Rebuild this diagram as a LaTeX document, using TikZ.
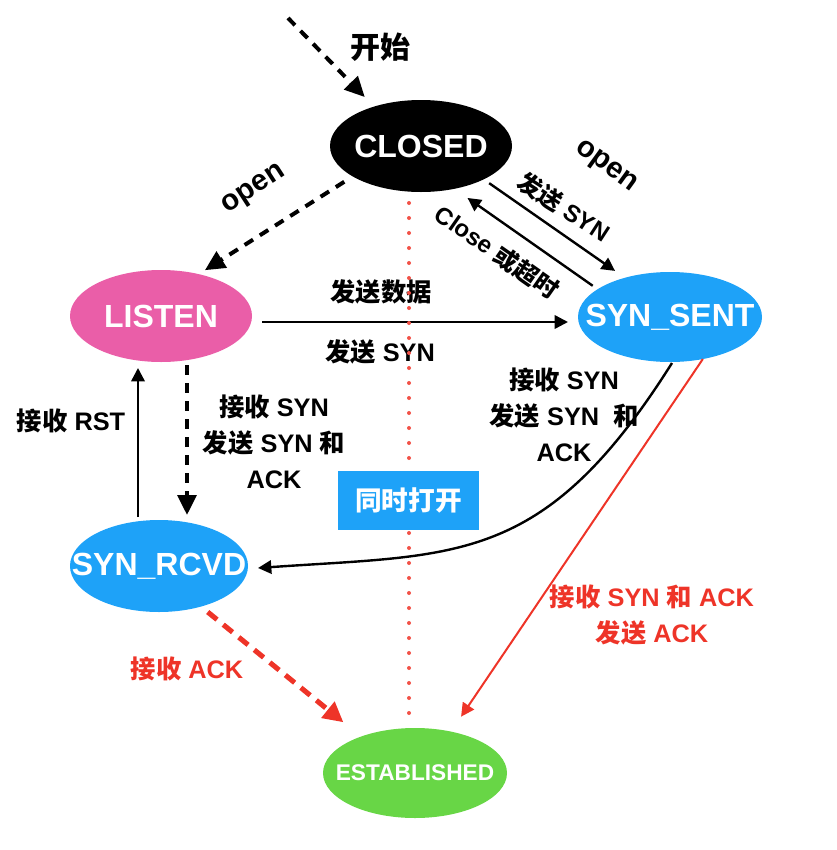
\documentclass[tikz,border=0pt]{standalone}
\usepackage{fontspec}
\setmainfont{Liberation Sans}
\newfontfamily\cjk{Noto Sans CJK SC}
\usetikzlibrary{shapes.geometric,arrows.meta,calc}
\newcommand{\zh}[1]{{\cjk #1}}
\definecolor{pinkn}{RGB}{234,94,168}
\definecolor{bluen}{RGB}{30,162,248}
\definecolor{greenn}{RGB}{104,214,70}
\definecolor{redl}{RGB}{238,52,40}
\definecolor{redd}{RGB}{242,82,72}
\tikzset{
  state/.style={ellipse, inner sep=0pt, outer sep=0pt},
  statetext/.style={inner sep=0pt, text=white, font=\fontsize{24}{28}\selectfont\bfseries},
  esttext/.style={inner sep=0pt, text=white, font=\fontsize{17}{20}\selectfont\bfseries},
  lab/.style={font=\fontsize{19}{27}\selectfont\bfseries, align=center, inner sep=0pt},
  bigtip/.style={-{Triangle[length=15pt,width=14pt]}},
  smalltip/.style={-{Triangle[length=10pt,width=10pt]}},
  blackdash/.style={line width=3pt, dash pattern=on 7.5pt off 6pt, bigtip},
  blacksolid/.style={line width=1.8pt, smalltip},
  reddash/.style={draw=redl, line width=3.8pt, dash pattern=on 9pt off 6pt, -{Triangle[length=15pt,width=15pt]}, redl},
  redsolid/.style={draw=redl, line width=1.5pt, -{Triangle[length=10pt,width=10pt]}, redl},
  dotline/.style={draw=redd, line width=3pt, line cap=round, dash pattern=on 0pt off 11.25pt}
}
\begin{document}
\begin{tikzpicture}[x=0.75pt,y=-0.75pt]
\useasboundingbox (0,0) rectangle (836,850);

% states
\node[state, fill=black, minimum width=136.5pt, minimum height=69pt, label={[statetext]center:CLOSED}] (closed) at (421,146) {};
\node[state, fill=pinkn, minimum width=136.5pt, minimum height=69pt, label={[statetext]center:LISTEN}] (listen) at (161,316) {};
\node[state, fill=bluen, minimum width=138pt, minimum height=67.5pt, label={[statetext]center:SYN\_SENT}] (sent) at (670,317) {};
\node[state, fill=bluen, minimum width=133.5pt, minimum height=69pt, label={[statetext]center:SYN\_RCVD}] (rcvd) at (159,566) {};
\node[state, fill=greenn, minimum width=138pt, minimum height=67.5pt, label={[esttext]center:ESTABLISHED}] (est) at (415,773) {};

% labels
\node[lab, font=\fontsize{22.5}{26}\selectfont\bfseries] (start) at (380,47) {\zh{开始}};
\node[lab, font=\fontsize{22}{26}\selectfont\bfseries, rotate=33] (openl) at (254,190) {open};
\node[lab, font=\fontsize{22}{26}\selectfont\bfseries, rotate=-36] (openr) at (606,167) {open};
\node[lab, font=\fontsize{18}{22}\selectfont\bfseries, rotate=-33] (sendsyn1) at (564,207) {\zh{发送} SYN};
\node[lab, font=\fontsize{18}{22}\selectfont\bfseries, rotate=-35] (closeto) at (497,252) {Close \zh{或超时}};
\node[lab] (senddata) at (381,292) {\zh{发送数据}};
\node[lab] (sendsyn2) at (380,352) {\zh{发送} SYN};
\node[lab] (rst) at (71,421) {\zh{接收} RST};
\node[lab] (lblock) at (274,442) {\zh{接收} SYN\\\zh{发送} SYN \zh{和}\\ACK};
\node[lab] (rblock) at (564,415) {\zh{接收} SYN\\\zh{发送} SYN\ \ \zh{和}\\ACK};
\node[lab, text=redl] (redblock) at (652,615) {\zh{接收} SYN \zh{和} ACK\\\zh{发送} ACK};
\node[lab, text=redl] (recvack) at (187,669) {\zh{接收} ACK};

% start arrow
\coordinate (s0) at (288,18);
\draw[blackdash, shorten >=10pt] (s0) -- (closed.140);

% connectors
\draw[blackdash, shorten <=7.5pt, shorten >=5.5pt] (closed.204.5) -- (listen.48);
\draw[blacksolid, shorten <=5pt, shorten >=9pt] (closed.-28) -- (sent.139.5);
\draw[blacksolid, shorten <=4.5pt, shorten >=12pt] (sent.159) -- (closed.-52.3);
\draw[blacksolid] ($(listen.east)+(10,6)$) -- ($(sent.west)+(-10,5)$);
\draw[blackdash] ($(listen.south)+(26,3)$) -- ($(rcvd.north)+(28,-5)$);
\draw[blacksolid] ($(rcvd.north)+(-21,-3)$) -- ($(listen.south)+(-23,6)$);
\draw[blacksolid] ($(sent.south)+(2,1)$) .. controls (544,566) and (458,554) .. ($(rcvd.east)+(10,2)$);
\draw[redsolid, shorten >=13.5pt] (sent.-52.5) -- (est.49);
\draw[reddash, shorten <=6.5pt, shorten >=17pt] (rcvd.-44) -- (est.146);

% dotted line
\coordinate (d0) at (409,203);
\coordinate (d1) at (409,723);
\draw[dotline] (d0) -- (d1);

% box
\node[fill=bluen, text=white, minimum width=105.75pt, minimum height=44.25pt, inner sep=0pt, font=\fontsize{20}{24}\selectfont\bfseries] (sim) at (408.5,500.5) {\zh{同时打开}};
\end{tikzpicture}
\end{document}
